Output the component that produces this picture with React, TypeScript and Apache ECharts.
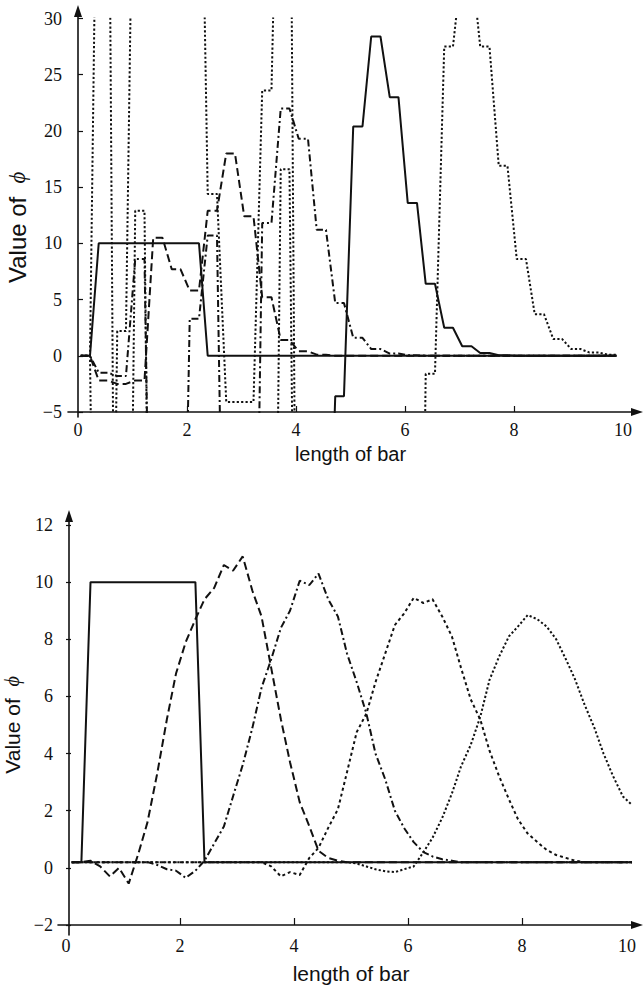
import React, { useEffect, useRef } from "react";
import * as echarts from "echarts";

// ---------- TOP PANEL (unstable scheme) ----------
const TOP_X = [0.05, 0.22, 0.38, 0.55, 0.72, 0.88, 1.05, 1.22, 1.38, 1.55, 1.72, 1.88, 2.05, 2.22, 2.38, 2.55, 2.72, 2.88, 3.05, 3.22, 3.38, 3.55, 3.72, 3.88, 4.05, 4.22, 4.38, 4.55, 4.72, 4.88, 5.05, 5.22, 5.38, 5.55, 5.72, 5.88, 6.05, 6.22, 6.38, 6.55, 6.72, 6.88, 7.05, 7.22, 7.38, 7.55, 7.72, 7.88, 8.05, 8.22, 8.38, 8.55, 8.72, 8.88, 9.05, 9.22, 9.38, 9.55, 9.72, 9.88];
const TOP_T0 = [0, 0, 10, 10, 10, 10, 10, 10, 10, 10, 10, 10, 10, 10, 0, 0, 0, 0, 0, 0, 0, 0, 0, 0, 0, 0, 0, 0, 0, 0, 0, 0, 0, 0, 0, 0, 0, 0, 0, 0, 0, 0, 0, 0, 0, 0, 0, 0, 0, 0, 0, 0, 0, 0, 0, 0, 0, 0, 0, 0];
const TOP_T1 = [0, 0, -2.2, -2.2, -2.5, -2.5, -2.2, -2.2, 10.5, 10.5, 7.7, 7.7, 5.8, 5.8, 12.9, 12.9, 18, 18, 12.4, 12.4, 5.2, 5.2, 1.4, 1.4, 0.4, 0.4, 0.1, 0.1, 0, 0, 0, 0, 0, 0, 0, 0, 0, 0, 0, 0, 0, 0, 0, 0, 0, 0, 0, 0, 0, 0, 0, 0, 0, 0, 0, 0, 0, 0, 0, 0];
const TOP_T2 = [0, 0, -1.5, -1.5, -1.8, -1.8, 8.6, 8.6, -40, -40, -40, -40, 3.3, 3.3, 10.7, 10.7, -40, -40, -40, -40, 11.8, 11.8, 22, 22, 19.3, 19.3, 11.2, 11.2, 4.7, 4.7, 1.6, 1.6, 0.6, 0.6, 0.2, 0.2, 0.05, 0.05, 0, 0, 0, 0, 0, 0, 0, 0, 0, 0, 0, 0, 0, 0, 0, 0, 0, 0, 0, 0, 0, 0];
const TOP_T3 = [null, null, null, null, null, null, null, null, null, null, null, null, null, null, null, null, null, null, null, null, null, null, null, null, null, null, null, -30, -3.6, -3.6, 20.4, 20.4, 28.4, 28.4, 23, 23, 13.6, 13.6, 6.4, 6.4, 2.5, 2.5, 0.85, 0.85, 0.25, 0.25, 0.05, 0.05, 0, 0, 0, 0, 0, 0, 0, 0, 0, 0, 0, 0];
const TOP_T4A = [0, 0, 60, 60, -60, -60, 12.9, 12.9, -60, -60, -60, -60, -60, -60, -60, -60, -60, -60, -60, -60, -60, -60, 16.6, 16.6, -60, null, null, null, null, null, null, null, null, null, null, null, null, null, null, null, null, null, null, null, null, null, null, null, null, null, null, null, null, null, null, null, null, null, null, null];
const TOP_T4B = [0, 0, -60, -60, 2.2, 2.2, 60, 60, 60, 60, 60, 60, 60, 60, 14.4, 14.4, -4.1, -4.1, -4.1, -4.1, 23.6, 23.6, 60, 60, -60, -60, -60, -60, -60, -60, -60, -60, -60, -60, -60, -60, -60, -60, -1.6, -1.6, 27.5, 27.5, 35, 35, 27.5, 27.5, 16.9, 16.9, 8.6, 8.6, 3.7, 3.7, 1.5, 1.5, 0.6, 0.6, 0.3, 0.3, 0.1, 0.1];

// ---------- BOTTOM PANEL (stable scheme) ----------
const BOT_X = [0.1, 0.27, 0.43, 0.6, 0.77, 0.93, 1.1, 1.27, 1.43, 1.6, 1.77, 1.93, 2.1, 2.27, 2.43, 2.6, 2.77, 2.93, 3.1, 3.27, 3.43, 3.6, 3.77, 3.93, 4.1, 4.27, 4.43, 4.6, 4.77, 4.93, 5.1, 5.27, 5.43, 5.6, 5.77, 5.93, 6.1, 6.27, 6.43, 6.6, 6.77, 6.93, 7.1, 7.27, 7.43, 7.6, 7.77, 7.93, 8.1, 8.27, 8.43, 8.6, 8.77, 8.93, 9.1, 9.27, 9.43, 9.6, 9.77, 9.93];
const BOT_S0 = [0.2, 0.2, 10, 10, 10, 10, 10, 10, 10, 10, 10, 10, 10, 10, 0.2, 0.2, 0.2, 0.2, 0.2, 0.2, 0.2, 0.2, 0.2, 0.2, 0.2, 0.2, 0.2, 0.2, 0.2, 0.2, 0.2, 0.2, 0.2, 0.2, 0.2, 0.2, 0.2, 0.2, 0.2, 0.2, 0.2, 0.2, 0.2, 0.2, 0.2, 0.2, 0.2, 0.2, 0.2, 0.2, 0.2, 0.2, 0.2, 0.2, 0.2, 0.2, 0.2, 0.2, 0.2, 0.2];
const BOT_S1 = [0.2, 0.2, 0.25, 0.05, -0.3, 0.0, -0.55, 0.5, 1.6, 3.3, 5.2, 6.8, 7.9, 8.7, 9.4, 9.8, 10.6, 10.4, 10.9, 9.7, 8.8, 7.0, 5.2, 3.7, 2.3, 1.45, 0.6, 0.35, 0.25, 0.2, 0.2, 0.2, 0.2, 0.2, 0.2, 0.2, 0.2, 0.2, 0.2, 0.2, 0.2, 0.2, 0.2, 0.2, 0.2, 0.2, 0.2, 0.2, 0.2, 0.2, 0.2, 0.2, 0.2, 0.2, 0.2, 0.2, 0.2, 0.2, 0.2, 0.2];
const BOT_S2 = [0.2, 0.2, 0.2, 0.2, 0.2, 0.2, 0.2, 0.2, 0.2, 0.1, -0.05, -0.1, -0.35, -0.1, 0.25, 0.85, 1.45, 2.5, 3.6, 4.9, 6.3, 7.3, 8.4, 9.0, 10.05, 9.9, 10.3, 9.4, 8.8, 7.5, 6.5, 5.4, 4.0, 3.1, 2.0, 1.4, 0.9, 0.55, 0.4, 0.3, 0.25, 0.2, 0.2, 0.2, 0.2, 0.2, 0.2, 0.2, 0.2, 0.2, 0.2, 0.2, 0.2, 0.2, 0.2, 0.2, 0.2, 0.2, 0.2, 0.2];
const BOT_S3 = [0.2, 0.2, 0.2, 0.2, 0.2, 0.2, 0.2, 0.2, 0.2, 0.2, 0.2, 0.2, 0.2, 0.2, 0.2, 0.2, 0.2, 0.2, 0.2, 0.2, 0.2, 0.05, -0.3, -0.15, -0.25, 0.35, 0.7, 1.4, 2.05, 3.35, 4.75, 5.4, 6.5, 7.5, 8.5, 8.9, 9.45, 9.27, 9.4, 8.8, 8.1, 7.0, 5.9, 5.18, 4.1, 3.2, 2.4, 1.7, 1.2, 0.9, 0.63, 0.45, 0.35, 0.25, 0.2, 0.2, 0.2, 0.2, 0.2, 0.2];
const BOT_S4 = [0.2, 0.2, 0.2, 0.2, 0.2, 0.2, 0.2, 0.2, 0.2, 0.2, 0.2, 0.2, 0.2, 0.2, 0.2, 0.2, 0.2, 0.2, 0.2, 0.2, 0.2, 0.2, 0.2, 0.2, 0.2, 0.2, 0.2, 0.2, 0.2, 0.2, 0.15, 0.05, -0.05, -0.12, -0.15, -0.05, 0.05, 0.55, 1.05, 1.75, 2.6, 3.55, 4.3, 5.3, 6.58, 7.4, 8.1, 8.45, 8.85, 8.7, 8.45, 8.0, 7.3, 6.6, 5.7, 4.9, 4.0, 3.2, 2.5, 2.2];

const TOP_X_TICKS = [0, 2, 4, 6, 8, 10];
const TOP_Y_TICKS = [-5, 0, 5, 10, 15, 20, 25, 30];
const BOT_X_TICKS = [0, 2, 4, 6, 8, 10];
const BOT_Y_TICKS = [-2, 0, 2, 4, 6, 8, 10, 12];

const INK = "#111111";
const SOLID: any = "solid";
const DASHED = [8, 4];
const DASHDOT = [7, 3, 2, 3];
const DASHDOTS = [3, 3];
const DOTTED = [2.2, 2.2];

function toPairs(xs: number[], ys: (number | null)[]) {
  const out: number[][] = [];
  ys.forEach((y, i) => {
    if (y !== null) out.push([xs[i], y]);
  });
  return out;
}

function lineSeries(idx: number, xs: number[], ys: (number | null)[], type: any, width = 2) {
  return {
    type: "line",
    xAxisIndex: idx,
    yAxisIndex: idx,
    data: toPairs(xs, ys),
    symbol: "none",
    clip: true,
    lineStyle: { color: INK, width, type },
    z: 3,
  };
}

const fmt = (v: number) => (v < 0 ? "\u2212" + Math.abs(v) : String(v));

export default function App() {
  const ref = useRef<HTMLDivElement>(null);
  useEffect(() => {
    if (!ref.current) return;
    const chart = echarts.init(ref.current, undefined, { renderer: "svg" });
    const serif = "Liberation Serif, Times New Roman, serif";
    const sans = "Liberation Sans, Arial, sans-serif";
    const labelStyle = (size: number, margin: number, extra: any = {}) => ({
      fontFamily: serif,
      fontSize: size,
      color: INK,
      margin,
      formatter: fmt,
      ...extra,
    });
    const axisLineOnly = (gridIndex: number) => ({
      gridIndex,
      type: "value",
      min: 0,
      max: 1,
      axisLine: {
        show: true,
        onZero: false,
        symbol: ["none", "triangle"],
        symbolSize: [8, 12],
        lineStyle: { color: INK, width: 1.6 },
      },
      axisTick: { show: false },
      axisLabel: { show: false },
      splitLine: { show: false },
    });
    const hidden = (gridIndex: number) => ({ gridIndex, type: "value", show: false, min: 0, max: 1 });

    const phiName = "Value of  {p|\u03D5}";
    const nameStyle = (size: number, pad: number[]) => ({
      fontFamily: sans,
      fontSize: size,
      color: INK,
      padding: pad,
      rich: { p: { fontFamily: "Liberation Serif, DejaVu Serif, serif", fontStyle: "italic", fontSize: size - 1, color: INK } },
    });
    const g = (o: any) => ({ containLabel: false, outerBoundsMode: "none", ...o });

    const option: any = {
      animation: false,
      backgroundColor: "#ffffff",
      grid: [
        g({ left: 78, right: 20, top: 18.5, bottom: 578 }),
        g({ left: 68, right: 6, top: 200, bottom: 578 }),
        g({ left: 78, width: 20, top: 11, bottom: 573 }),
        g({ left: 66, right: 7, top: 525, bottom: 65 }),
        g({ left: 58, right: 6, top: 700, bottom: 65 }),
        g({ left: 69, width: 20, top: 516, bottom: 55 }),
      ],
      xAxis: [
        {
          gridIndex: 0,
          type: "value",
          min: TOP_X_TICKS[0],
          max: TOP_X_TICKS[TOP_X_TICKS.length - 1],
          interval: 2,
          axisLine: { show: false, onZero: false },
          axisTick: { show: true, inside: true, length: 6, customValues: [2, 4, 6, 8], lineStyle: { color: INK, width: 1.2 } },
          axisLabel: labelStyle(18, 9),
          splitLine: { show: false },
          name: "length of bar",
          nameLocation: "middle",
          nameGap: 32,
          nameTextStyle: { fontFamily: sans, fontSize: 20, color: INK },
        },
        axisLineOnly(1),
        hidden(2),
        {
          gridIndex: 3,
          type: "value",
          min: BOT_X_TICKS[0],
          max: BOT_X_TICKS[BOT_X_TICKS.length - 1],
          interval: 2,
          axisLine: { show: false, onZero: false },
          axisTick: { show: true, inside: true, length: 7, customValues: [2, 4, 6, 8], lineStyle: { color: INK, width: 1.2 } },
          axisLabel: labelStyle(18, 12, { alignMaxLabel: "right" }),
          splitLine: { show: false },
          name: "length of bar",
          nameLocation: "middle",
          nameGap: 38,
          nameTextStyle: { fontFamily: sans, fontSize: 21, color: INK },
        },
        axisLineOnly(4),
        hidden(5),
      ],
      yAxis: [
        {
          gridIndex: 0,
          type: "value",
          min: TOP_Y_TICKS[0],
          max: TOP_Y_TICKS[TOP_Y_TICKS.length - 1],
          interval: 5,
          axisLine: { show: false, onZero: false },
          axisTick: { show: true, inside: true, length: 5, lineStyle: { color: INK, width: 1.2 } },
          axisLabel: labelStyle(18, 16),
          splitLine: { show: false },
          name: phiName,
          nameLocation: "middle",
          nameGap: 49,
          nameTextStyle: nameStyle(24, [0, 24, 0, 0]),
        },
        hidden(1),
        axisLineOnly(2),
        {
          gridIndex: 3,
          type: "value",
          min: BOT_Y_TICKS[0],
          max: BOT_Y_TICKS[BOT_Y_TICKS.length - 1],
          interval: 2,
          axisLine: { show: false, onZero: false },
          axisTick: { show: true, inside: true, length: 5, lineStyle: { color: INK, width: 1.2 } },
          axisLabel: labelStyle(18, 13),
          splitLine: { show: false },
          name: phiName,
          nameLocation: "middle",
          nameGap: 39,
          nameTextStyle: nameStyle(21, [0, 0, 0, 0]),
        },
        hidden(4),
        axisLineOnly(5),
      ],
      series: [
        lineSeries(0, TOP_X, TOP_T0, SOLID),
        lineSeries(0, TOP_X, TOP_T1, DASHED),
        lineSeries(0, TOP_X, TOP_T2, DASHDOT),
        lineSeries(0, TOP_X, TOP_T3, SOLID),
        lineSeries(0, TOP_X, TOP_T4A, DOTTED),
        lineSeries(0, TOP_X, TOP_T4B, DOTTED),
        lineSeries(3, BOT_X, BOT_S0, SOLID),
        lineSeries(3, BOT_X, BOT_S1, DASHED),
        lineSeries(3, BOT_X, BOT_S2, DASHDOT),
        lineSeries(3, BOT_X, BOT_S3, DASHDOTS),
        lineSeries(3, BOT_X, BOT_S4, DOTTED),
      ],
    };
    chart.setOption(option);
    return () => chart.dispose();
  }, []);
  return (
    <div
      ref={ref}
      style={{ position: "absolute", left: 0, top: 0, width: 643, height: 990, background: "#fff" }}
    />
  );
}
